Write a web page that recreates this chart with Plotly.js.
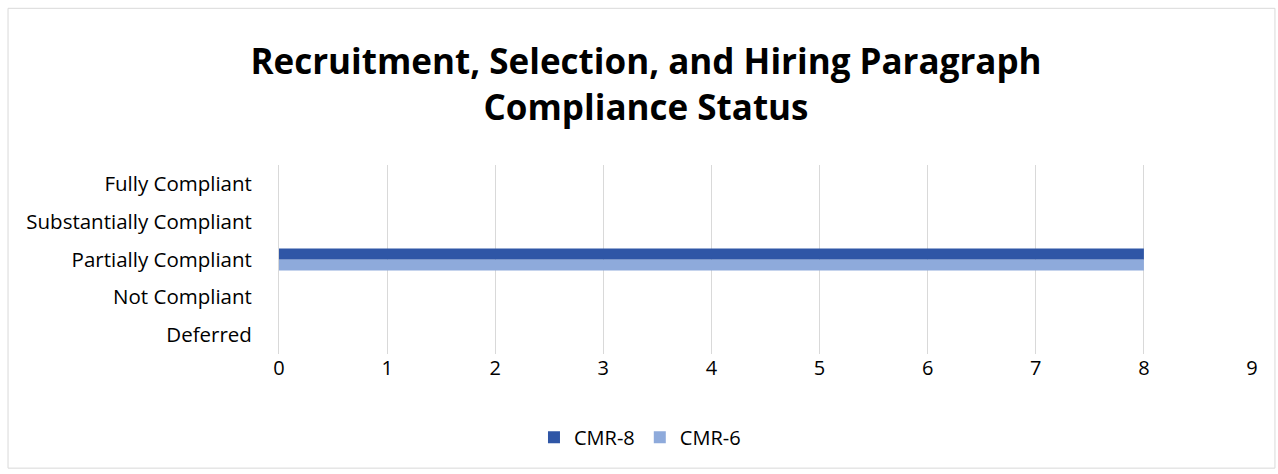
<!DOCTYPE html>
<html>
<head>
<meta charset="utf-8">
<script src="https://cdn.plot.ly/plotly-3.0.1.min.js"></script>
<style>
  body { margin: 0; background: #fff; }
  #chart { width: 1278px; height: 474px; }
</style>
</head>
<body>
<div id="chart"></div>
<script>
// categories bottom to top, as drawn
var statuses = ["Deferred", "Not Compliant", "Partially Compliant", "Substantially Compliant", "Fully Compliant"];
var cmr6 = [0, 0, 8, 0, 0];
var cmr8 = [0, 0, 8, 0, 0];
var xTicks = [0, 1, 2, 3, 4, 5, 6, 7, 8, 9];

var fontFace = "Open Sans, Lato, sans-serif";

// first trace sits lowest in a horizontal group, so CMR-6 goes first
var trace6 = {
    y: statuses,
    x: cmr6,
    type: 'bar',
    orientation: 'h',
    name: 'CMR-6',
    marker: {color: '#8eaadb'},
    hoverinfo: 'x+name'
};
var trace8 = {
    y: statuses,
    x: cmr8,
    type: 'bar',
    orientation: 'h',
    name: 'CMR-8',
    marker: {color: '#2f56a6'},
    hoverinfo: 'x+name'
};

var layout = {
    width: 1278,
    height: 474,
    margin: {l: 279, r: 26, t: 165, b: 120},
    paper_bgcolor: '#ffffff',
    plot_bgcolor: '#ffffff',
    barmode: 'group',
    bargap: 0.42,
    bargroupgap: 0,
    title: {
        text: "Recruitment, Selection, and Hiring Paragraph<br>Compliance Status",
        font: {family: fontFace, size: 35, color: '#000000', weight: 'bold'},
        x: 0.5055,
        xanchor: 'center',
        y: 0.843,
        yanchor: 'middle'
    },
    xaxis: {
        range: [0, 9],
        tickvals: xTicks,
        showgrid: true,
        gridcolor: '#d9d9d9',
        gridwidth: 1,
        zeroline: false,
        showline: false,
        ticks: '',
        tickfont: {family: fontFace, size: 20, color: '#000000'}
    },
    yaxis: {
        type: 'category',
        categoryorder: 'array',
        categoryarray: statuses,
        showgrid: false,
        zeroline: false,
        showline: true,
        linecolor: '#d9d9d9',
        ticks: '',
        ticklabelstandoff: 22,
        tickfont: {family: fontFace, size: 20.5, color: '#000000'}
    },
    showlegend: true,
    legend: {
        orientation: 'h',
        traceorder: 'reversed',
        x: 0.371,
        xanchor: 'center',
        y: -0.44,
        yanchor: 'middle',
        font: {family: fontFace, size: 20, color: '#000000'},
        itemwidth: 30
    },
    shapes: [{
        type: 'rect',
        xref: 'paper',
        yref: 'paper',
        x0: -0.2785,
        x1: 1.0236,
        y0: -0.604,
        y1: 1.829,
        line: {color: '#d9d9d9', width: 1},
        layer: 'below'
    }]
};

Plotly.newPlot("chart", [trace6, trace8], layout, {displayModeBar: false});
</script>
</body>
</html>
